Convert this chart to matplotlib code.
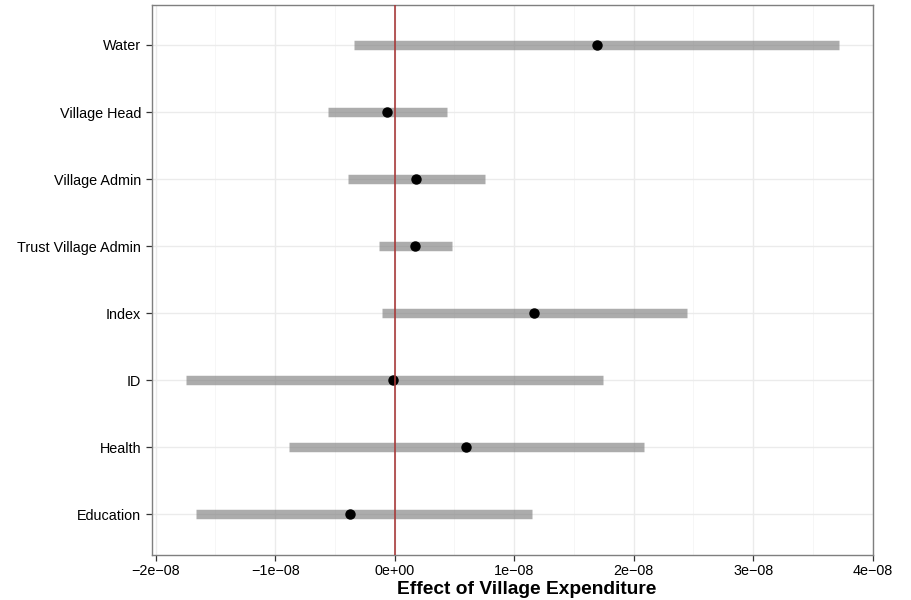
import matplotlib
matplotlib.use("Agg")
import matplotlib.pyplot as plt
from matplotlib.ticker import MultipleLocator, FixedLocator

plt.rcParams['font.family'] = ['Liberation Sans', 'DejaVu Sans']

categories = ["Education", "Health", "ID", "Index", "Trust Village Admin",
              "Village Admin", "Village Head", "Water"]
estimate = [-0.37e-8, 0.60e-8, -0.01e-8, 1.17e-8, 0.17e-8, 0.18e-8, -0.06e-8, 1.69e-8]
lower = [-1.66e-8, -0.88e-8, -1.75e-8, -0.11e-8, -0.13e-8, -0.39e-8, -0.56e-8, -0.34e-8]
upper = [1.15e-8, 2.09e-8, 1.74e-8, 2.45e-8, 0.48e-8, 0.76e-8, 0.44e-8, 3.72e-8]
xticks = [-2e-8, -1e-8, 0, 1e-8, 2e-8, 3e-8, 4e-8]
xticklabels = ["\u22122e\u221208", "\u22121e\u221208", "0e+00", "1e\u221208", "2e\u221208", "3e\u221208", "4e\u221208"]

fig = plt.figure(figsize=(9.11, 6.0), dpi=100)
ax = fig.add_axes([151.7/911, 1-554.7/600, (872.7-151.7)/911, (554.7-4.7)/600])

ys = list(range(len(categories)))
ax.hlines(ys, lower, upper, color='#808080', alpha=0.65, lw=6.8, zorder=3)
ax.plot(estimate, ys, 'o', color='black', ms=6.5, zorder=4)
ax.axvline(0, color='#a83a3a', lw=1.4, alpha=0.85, zorder=5)

ax.set_xlim(-2.033e-8, 4.0e-8)
ax.set_ylim(-0.6, len(categories) - 1 + 0.6)
ax.xaxis.set_major_locator(FixedLocator(xticks))
ax.set_xticklabels(xticklabels)
ax.xaxis.set_minor_locator(MultipleLocator(0.5e-8))
ax.set_yticks(ys)
ax.set_yticklabels(categories)

ax.grid(which='major', color='#ebebeb', lw=1.0, zorder=0)
ax.grid(which='minor', axis='x', color='#f5f5f5', lw=0.6, zorder=0)
ax.set_axisbelow(True)
for s in ax.spines.values():
    s.set_color('#7f7f7f')
    s.set_linewidth(1.0)
ax.tick_params(which='major', length=4.5, width=0.9, color='#333333', labelsize=10.4, labelcolor='black', pad=3)
ax.tick_params(axis='x', which='major', pad=2)
ax.tick_params(which='minor', length=0)

ax.set_xlabel("Effect of Village Expenditure", fontsize=13.8, fontweight='bold')
ax.xaxis.set_label_coords((527 - 151.7) / 721.0, -0.048)
ax.xaxis.label.set_verticalalignment('top')

fig.savefig("out.png", dpi=100)
